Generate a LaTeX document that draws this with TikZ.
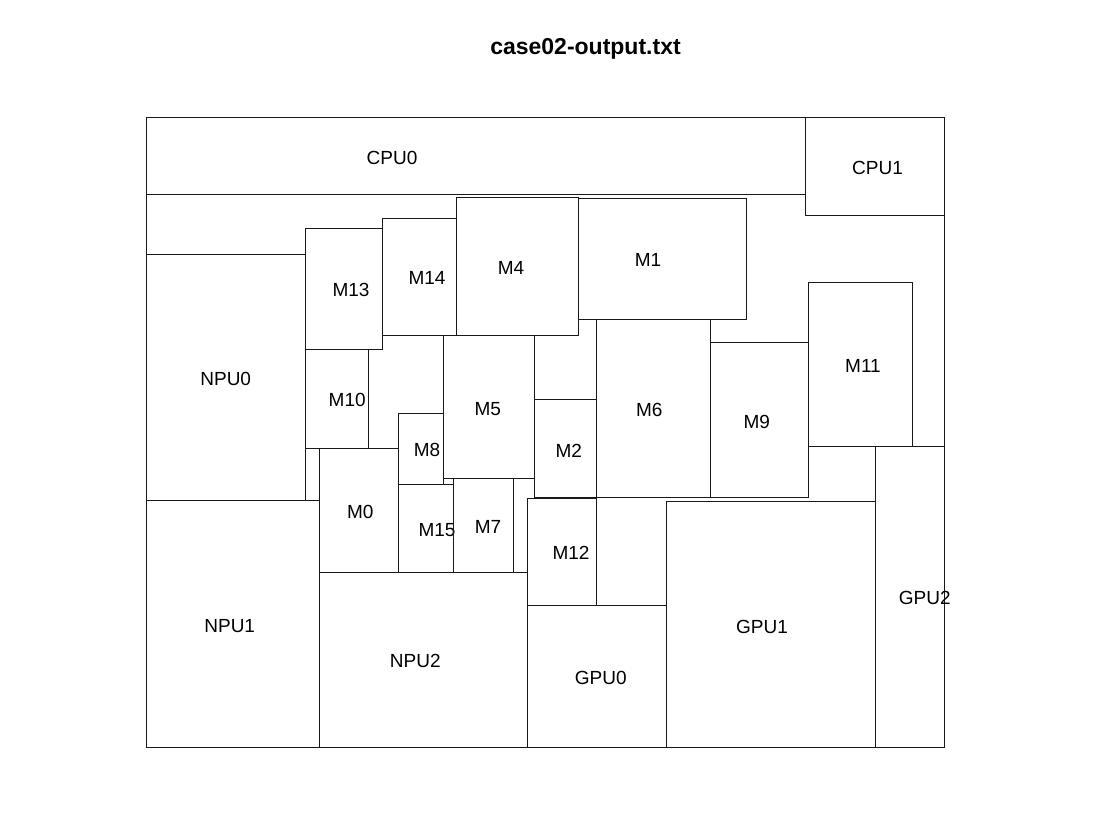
\documentclass[tikz,border=0pt]{standalone}
\usepackage{fontspec}
\setmainfont{Liberation Sans}
\begin{document}
\begin{tikzpicture}[x=1pt,y=-1pt,
  blk/.style={draw=black!90, line width=1pt},
  lbl/.style={font=\fontsize{19}{19}\selectfont, inner sep=0pt},
  ttl/.style={font=\fontsize{23}{23}\selectfont\bfseries, inner sep=0pt, anchor=base}]
\useasboundingbox (0,0) rectangle (1120,840);
% die outline
\draw[blk] (146,117.5) rectangle (944.3,747.3);
% blocks: name / x1 / y1 / x2 / y2 / label x / label y
\foreach \n/\xa/\ya/\xb/\yb/\lx/\ly in {
  CPU0/146/117.5/805.7/194.3/392/157.5,
  CPU1/805.7/117.5/944.3/216/877.5/168,
  NPU0/146/254.7/305.7/500.7/225.7/379.2,
  NPU1/146/500.7/319.7/747.3/229.7/625.8,
  NPU2/319.7/572.3/527.7/747.3/415.3/661,
  GPU0/527.7/605.3/666.7/747.3/600.8/678,
  GPU1/666.7/501.2/875.3/747.3/762/626.5,
  GPU2/875.3/446.5/944.3/747.3/924.8/598,
  M13/305.7/228.7/382.3/349.3/351/290.3,
  M14/382.3/219/456.3/335.3/427/278,
  M4/456.3/198/578.3/335.3/511/268,
  M1/578.3/198.7/746/319/648/260,
  M10/305.7/349.3/368.3/448/347.2/400,
  M5/443.3/335.7/534/478.3/487.7/408.7,
  M8/398.3/413.7/443.3/484.7/427/450,
  M0/319.7/448.3/398.3/572/360.3/511.7,
  M15/398.3/484.7/453.7/572/437/530,
  M7/453.7/478.7/513.3/572/488/527.3,
  M2/534/399.7/596.3/497.7/568.8/450.8,
  M6/596.3/319.7/710/497.7/649.3/409.7,
  M9/710/342.7/808.3/497.7/756.7/422,
  M11/808.7/282.3/912.3/446.3/863/365.5,
  M12/527.7/498.5/596/605.3/571/553}
{
  \draw[blk] (\xa,\ya) rectangle (\xb,\yb);
  \node[lbl] (\n) at (\lx,\ly) {\n};
}
\node[ttl] (title) at (585.5,55) {case02-output.txt};
\end{tikzpicture}
\end{document}
